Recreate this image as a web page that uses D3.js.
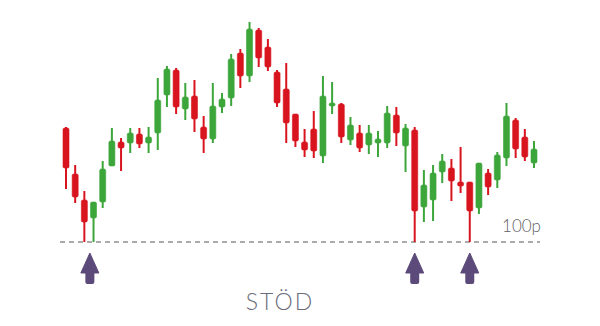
<!DOCTYPE html>
<html>
<head>
<meta charset="utf-8">
<script src="https://cdn.jsdelivr.net/npm/d3@7"></script>
<style>
  html, body { margin: 0; padding: 0; background: #ffffff; }
  svg { display: block; }
</style>
</head>
<body>
<svg id="chart" width="600" height="326"></svg>
<script>
// ---- data ----
const opens  = [111.4,106.8,104.2,102.4,104.0,107.6,110.0,109.9,110.8,109.9,110.9,114.7,117.2,113.3,114.6,111.5,110.3,113.5,114.4,118.9,116.6,121.2,119.5,117.0,115.3,112.8,110.0,111.3,108.6,113.6,113.8,110.2,110.9,109.7,109.9,109.9,112.7,109.6,111.2,103.5,104.2,107.0,107.4,106.0,106.0,103.4,106.9,106.2,108.4,112.2,110.5,107.9];
const highs  = [111.5,107.7,105.1,104.0,108.1,111.4,110.4,111.4,111.4,111.5,116.4,117.6,117.4,115.9,116.2,112.6,115.9,114.9,118.8,119.3,122.0,121.4,120.3,117.2,117.9,112.8,111.3,113.1,116.6,116.0,113.9,112.5,111.7,111.7,111.1,113.6,113.5,111.8,111.5,107.2,107.7,108.8,108.3,109.5,106.0,107.9,107.3,109.0,113.9,112.4,111.3,110.1];
const lows   = [105.3,103.9,100.0,100.0,103.4,107.6,107.1,108.9,109.4,108.9,109.2,113.5,112.8,112.2,111.0,108.9,109.9,112.9,113.6,115.4,116.0,117.5,117.1,113.5,109.9,109.5,108.5,108.4,107.9,112.8,109.9,109.7,109.0,108.8,108.5,109.4,109.6,107.0,100.0,102.0,102.1,105.9,104.1,104.9,100.0,102.8,104.7,105.4,107.6,108.4,108.1,107.4];
const closes = [107.4,104.5,102.0,104.0,107.3,110.1,109.4,110.9,109.8,110.5,114.2,117.3,113.5,114.5,112.3,110.3,113.6,114.3,118.3,116.6,121.3,118.4,117.5,113.9,111.9,110.1,109.2,109.1,114.6,113.9,110.5,111.7,109.4,110.9,110.3,112.9,110.9,111.4,103.1,105.7,106.9,108.1,106.1,105.6,103.1,107.9,105.5,108.7,112.6,109.3,108.5,109.3];
const supportLevel = 100;
const supportLabel = "100p";
const supportPoints = [2.6, 38, 44];   // candle positions where price touched support
const title = "STÖD";

// ---- drawing ----
const svg = d3.select("#chart");
const n = opens.length;
const x = d3.scaleLinear().domain([0, n - 1]).range([66, 534]);
const y = d3.scaleLinear().domain([100, 122]).range([242, 22]);

const RED = "#d8141e", GREEN = "#3ca63b";
const candles = d3.range(n).map(i => ({i, o: opens[i], h: highs[i], l: lows[i], c: closes[i]}));

// support line
svg.append("line")
  .attr("x1", 60).attr("x2", 540)
  .attr("y1", y(supportLevel)).attr("y2", y(supportLevel))
  .attr("stroke", "#ababab").attr("stroke-width", 2)
  .attr("stroke-dasharray", "5,4");

svg.append("text")
  .attr("x", 541).attr("y", y(supportLevel) - 10)
  .attr("text-anchor", "end")
  .attr("font-family", "Lato, 'Open Sans', sans-serif")
  .attr("font-weight", 300)
  .attr("font-size", 17)
  .attr("fill", "#5f5f66")
  .text(supportLabel);

const g = svg.append("g");
const cg = g.selectAll("g.candle").data(candles).join("g").attr("class", "candle");
cg.append("line")
  .attr("x1", d => x(d.i)).attr("x2", d => x(d.i))
  .attr("y1", d => y(d.h)).attr("y2", d => y(d.l))
  .attr("stroke", d => d.c >= d.o ? GREEN : RED)
  .attr("stroke-width", 2);
const bw = 6;
cg.append("rect")
  .attr("x", d => x(d.i) - bw / 2)
  .attr("width", bw)
  .attr("y", d => y(Math.max(d.o, d.c)))
  .attr("height", d => Math.max(2.5, Math.abs(y(d.o) - y(d.c))))
  .attr("rx", 1.5)
  .attr("fill", d => d.c >= d.o ? GREEN : RED)
  .attr("stroke", d => d.c >= d.o ? GREEN : RED)
  .attr("stroke-width", 0.6);

// arrows
const ARROW = "#5c4b7a";
const ag = svg.selectAll("g.arrow").data(supportPoints).join("g")
  .attr("class", "arrow")
  .attr("transform", d => `translate(${x(d)},253)`);
ag.append("path")
  .attr("d", "M0,0 L9,20 L-9,20 Z")
  .attr("fill", ARROW)
  .attr("stroke", ARROW).attr("stroke-width", 1).attr("stroke-linejoin", "round");
ag.append("rect")
  .attr("x", -4.5).attr("y", 18).attr("width", 9).attr("height", 13)
  .attr("rx", 2).attr("fill", ARROW);

svg.append("text")
  .attr("x", 280).attr("y", 310)
  .attr("text-anchor", "middle")
  .attr("font-family", "Lato, 'Open Sans', sans-serif")
  .attr("font-weight", 300)
  .attr("font-size", 23)
  .attr("letter-spacing", 2)
  .attr("fill", "#6a6c7a")
  .text(title);
</script>
</body>
</html>
